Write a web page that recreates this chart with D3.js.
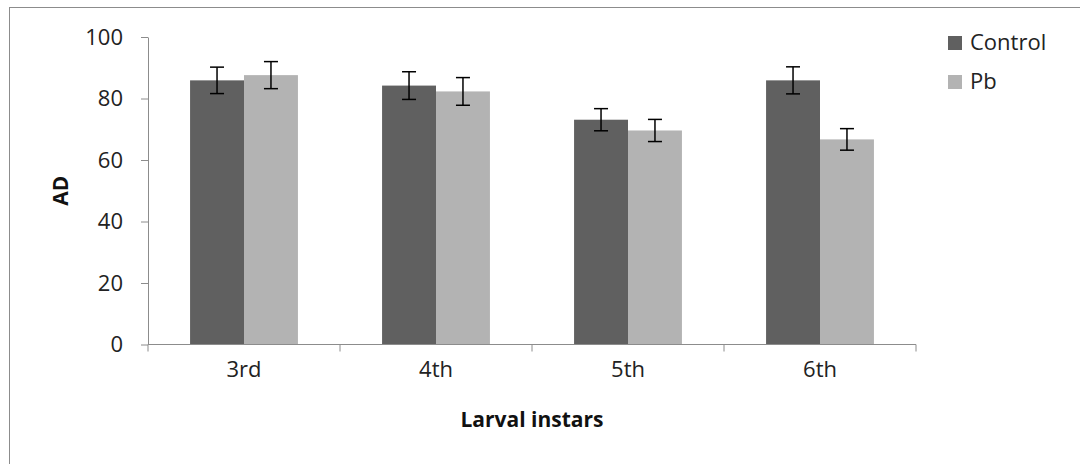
<!DOCTYPE html>
<html>
<head>
<meta charset="utf-8">
<script src="https://d3js.org/d3.v7.min.js"></script>
<style>
  body { margin: 0; background: #fff; }
  svg { font-family: "Open Sans", Lato, sans-serif; }
  .tick text { fill: #222; font-size: 22px; font-family: "Open Sans", Lato, sans-serif; }
  .axis path, .axis line { stroke: #8c8c8c; }
</style>
</head>
<body>
<svg id="chart" width="1080" height="464"></svg>
<script>
// data
const instars = ["3rd", "4th", "5th", "6th"];
const series = ["Control", "Pb"];
const controlMean = [85.9, 84.2, 73.1, 85.9];
const controlErr = [4.3, 4.5, 3.6, 4.4];
const pbMean = [87.6, 82.3, 69.6, 66.7];
const pbErr = [4.4, 4.5, 3.6, 3.5];
const yTicks = [0, 20, 40, 60, 80, 100];
const colors = ["#606060", "#b3b3b3"];

const rows = instars.map((k, i) => ({
  instar: k,
  vals: [
    { s: "Control", v: controlMean[i], e: controlErr[i] },
    { s: "Pb", v: pbMean[i], e: pbErr[i] }
  ]
}));

const svg = d3.select("#chart");
const m = { left: 148, right: 164, top: 37, bottom: 119.5 };
const W = 1080, H = 464;

// outer chart border (right and bottom edges fall off the picture)
svg.append("rect")
  .attr("x", 9.5).attr("y", 7.5)
  .attr("width", 1100).attr("height", 500)
  .attr("fill", "none").attr("stroke", "#8c8c8c");

const x = d3.scaleBand()
  .domain(instars)
  .range([m.left, W - m.right])
  .paddingInner(0).paddingOuter(0);

const x1 = d3.scaleBand()
  .domain(series)
  .range([0, x.bandwidth()])
  .paddingOuter(0.78).paddingInner(0);

const y = d3.scaleLinear()
  .domain([0, 100])
  .range([H - m.bottom, m.top]);

const color = d3.scaleOrdinal().domain(series).range(colors);

// axes
svg.append("g")
  .attr("class", "axis")
  .attr("transform", `translate(${m.left},0)`)
  .call(d3.axisLeft(y).tickValues(yTicks).tickSize(7).tickPadding(18).tickSizeOuter(0));

const groups = svg.append("g").selectAll("g")
  .data(rows)
  .join("g")
  .attr("transform", d => `translate(${x(d.instar)},0)`);

groups.selectAll("rect")
  .data(d => d.vals)
  .join("rect")
  .attr("x", d => x1(d.s))
  .attr("y", d => y(d.v))
  .attr("width", x1.bandwidth())
  .attr("height", d => y(0) - y(d.v))
  .attr("fill", d => color(d.s));

// error bars
const eb = groups.selectAll("g.err")
  .data(d => d.vals)
  .join("g")
  .attr("class", "err")
  .attr("stroke", "#000")
  .attr("stroke-width", 1.5);
eb.append("line")
  .attr("x1", d => x1(d.s) + x1.bandwidth() / 2)
  .attr("x2", d => x1(d.s) + x1.bandwidth() / 2)
  .attr("y1", d => y(d.v + d.e))
  .attr("y2", d => y(d.v - d.e));
eb.selectAll("line.cap")
  .data(d => [[d, d.v + d.e], [d, d.v - d.e]])
  .join("line")
  .attr("class", "cap")
  .attr("x1", d => x1(d[0].s) + x1.bandwidth() / 2 - 7)
  .attr("x2", d => x1(d[0].s) + x1.bandwidth() / 2 + 7)
  .attr("y1", d => y(d[1]))
  .attr("y2", d => y(d[1]));

const xAxisG = svg.append("g")
  .attr("class", "axis")
  .attr("transform", `translate(0,${y(0)})`)
  .call(d3.axisBottom(x).tickSize(0).tickPadding(17));
xAxisG.select(".domain").attr("d", `M${m.left},0H${W - m.right}`);
// category boundary ticks
xAxisG.selectAll("line.bound")
  .data(d3.range(instars.length + 1))
  .join("line")
  .attr("class", "bound")
  .attr("x1", i => m.left + i * x.bandwidth())
  .attr("x2", i => m.left + i * x.bandwidth())
  .attr("y1", 0).attr("y2", 7)
  .attr("stroke", "#8c8c8c");
xAxisG.selectAll(".tick text").attr("dy", "0.71em");

// axis titles
svg.append("text")
  .attr("transform", `translate(68,${(y(0) + y(100)) / 2}) rotate(-90)`)
  .attr("text-anchor", "middle")
  .attr("font-weight", "bold")
  .attr("font-size", 21)
  .attr("fill", "#111")
  .text("AD");

svg.append("text")
  .attr("x", (m.left + W - m.right) / 2)
  .attr("y", 427)
  .attr("text-anchor", "middle")
  .attr("font-weight", "bold")
  .attr("font-size", 21)
  .attr("fill", "#111")
  .text("Larval instars");

// legend
const lg = svg.append("g").attr("transform", "translate(948,36)");
const li = lg.selectAll("g")
  .data(series)
  .join("g")
  .attr("transform", (d, i) => `translate(0,${i * 39})`);
li.append("rect")
  .attr("width", 14).attr("height", 14)
  .attr("fill", d => color(d));
li.append("text")
  .attr("x", 22).attr("y", 14)
  .attr("font-size", 22)
  .attr("fill", "#222")
  .text(d => d);
</script>
</body>
</html>
